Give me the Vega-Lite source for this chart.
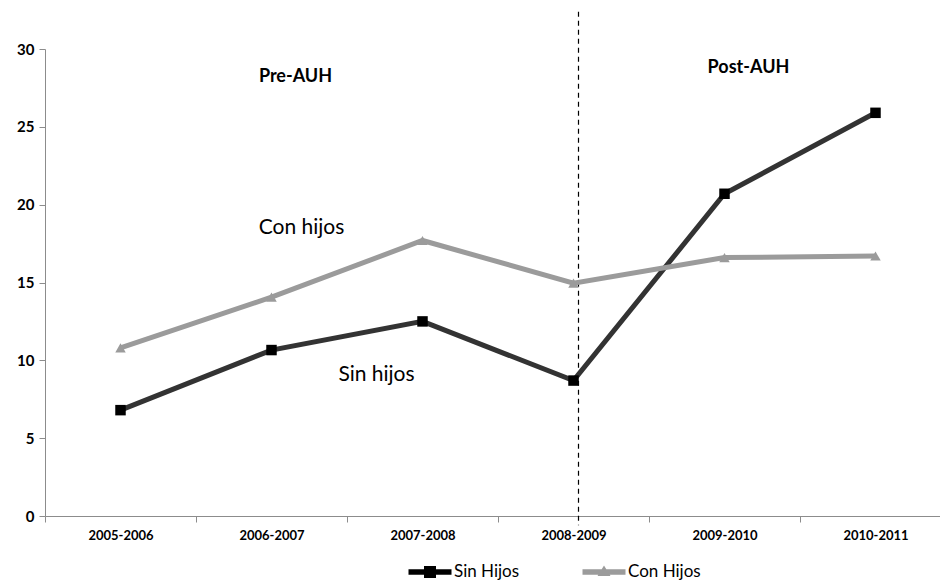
{
  "$schema": "https://vega.github.io/schema/vega-lite/v6.json",
  "autosize": "none",
  "width": 895,
  "height": 467,
  "padding": {"left": 45, "top": 49, "right": 0, "bottom": 69},
  "background": "white",
  "config": {
    "view": {"stroke": null},
    "font": "Lato",
    "axis": {"grid": false, "domainColor": "#8c8c8c", "tickColor": "#8c8c8c", "labelColor": "#000", "labelFont": "Lato", "labelFontWeight": "bold"}
  },
  "datasets": {
    "series": [
      {"period": "2005-2006", "serie": "Sin Hijos", "value": 6.8},
      {"period": "2006-2007", "serie": "Sin Hijos", "value": 10.66},
      {"period": "2007-2008", "serie": "Sin Hijos", "value": 12.5},
      {"period": "2008-2009", "serie": "Sin Hijos", "value": 8.7},
      {"period": "2009-2010", "serie": "Sin Hijos", "value": 20.7},
      {"period": "2010-2011", "serie": "Sin Hijos", "value": 25.9},
      {"period": "2005-2006", "serie": "Con Hijos", "value": 10.8},
      {"period": "2006-2007", "serie": "Con Hijos", "value": 14.06},
      {"period": "2007-2008", "serie": "Con Hijos", "value": 17.7},
      {"period": "2008-2009", "serie": "Con Hijos", "value": 14.96},
      {"period": "2009-2010", "serie": "Con Hijos", "value": 16.6},
      {"period": "2010-2011", "serie": "Con Hijos", "value": 16.7}
    ]
  },
  "layer": [
    {
      "data": {"values": [{"period": "2008-2009", "top": 32.4, "bottom": -0.6}]},
      "mark": {"type": "rule", "strokeDash": [5, 4], "color": "#000", "strokeWidth": 1.2, "xOffset": 5, "clip": false},
      "encoding": {
        "x": {"field": "period", "type": "nominal"},
        "y": {"field": "top", "type": "quantitative"},
        "y2": {"field": "bottom"}
      }
    },
    {
      "data": {"name": "series"},
      "mark": {"type": "line", "strokeWidth": 5},
      "encoding": {
        "x": {
          "field": "period", "type": "nominal", "sort": null,
          "scale": {"type": "band", "range": [0, 906], "paddingInner": 0, "paddingOuter": 0},
          "axis": {"title": null, "labelAngle": 0, "labelAlign": "center", "labelFontSize": 13, "tickBand": "extent", "tickSize": 6, "labelPadding": 13}
        },
        "y": {
          "field": "value", "type": "quantitative",
          "scale": {"domain": [0, 30]},
          "axis": {"title": null, "values": [0, 5, 10, 15, 20, 25, 30], "labelFontSize": 15, "tickSize": 6, "labelPadding": 5}
        },
        "color": {
          "field": "serie", "type": "nominal",
          "scale": {"domain": ["Sin Hijos", "Con Hijos"], "range": ["#333333", "#9b9b9b"]},
          "legend": {
            "title": null,
            "orient": "none",
            "legendX": 375,
            "legendY": 513,
            "padding": 0,
            "direction": "horizontal",
            "labelFontSize": 17,
            "labelFont": "Lato",
            "labelColor": "#000",
            "labelBaseline": "middle",
            "labelLimit": 300,
            "symbolSize": 400,
            "columnPadding": 62,
            "labelOffset": 14,
            "symbolStrokeWidth": 0,
            "encode": {
              "labels": {"update": {"fontSize": {"value": 17}}},
              "symbols": {
                "update": {
                  "shape": {"signal": "datum.value == 'Sin Hijos' ? 'M-2.15,-0.28H2.15V0.28H-2.15Z M-0.6,-0.6H0.6V0.6H-0.6Z' : 'M-2.15,-0.28H2.15V0.28H-2.15Z M-0.65,0.4L0,-0.65L0.65,0.4Z'"},
                  "fill": {"signal": "datum.value == 'Sin Hijos' ? '#000000' : '#9b9b9b'"},
                  "strokeWidth": {"value": 0}
                }
              }
            }
          }
        }
      }
    },
    {
      "data": {"name": "series"},
      "mark": {"type": "point", "filled": true, "opacity": 1, "size": 110},
      "encoding": {
        "x": {"field": "period", "type": "nominal", "sort": null},
        "y": {"field": "value", "type": "quantitative"},
        "shape": {"field": "serie", "type": "nominal", "scale": {"domain": ["Sin Hijos", "Con Hijos"], "range": ["square", "triangle-up"]}, "legend": null},
        "color": {"field": "serie", "type": "nominal", "scale": {"domain": ["Sin Hijos", "Con Hijos"], "range": ["#000000", "#9b9b9b"]}, "legend": null}
      }
    },
    {
      "data": {"values": [{"period": "2006-2007", "value": 28.2, "label": "Pre-AUH"}, {"period": "2009-2010", "value": 28.8, "label": "Post-AUH"}]},
      "mark": {"type": "text", "fontSize": 18, "fontWeight": "bold", "font": "Lato", "color": "#000", "dx": 24},
      "encoding": {
        "x": {"field": "period", "type": "nominal"},
        "y": {"field": "value", "type": "quantitative"},
        "text": {"field": "label"}
      }
    },
    {
      "data": {"values": [{"period": "2006-2007", "value": 18.5, "label": "Con hijos"}]},
      "mark": {"type": "text", "fontSize": 21, "font": "Lato", "color": "#000", "dx": 30},
      "encoding": {
        "x": {"field": "period", "type": "nominal"},
        "y": {"field": "value", "type": "quantitative"},
        "text": {"field": "label"}
      }
    },
    {
      "data": {"values": [{"period": "2007-2008", "value": 9.05, "label": "Sin hijos"}]},
      "mark": {"type": "text", "fontSize": 21, "font": "Lato", "color": "#000", "dx": -46},
      "encoding": {
        "x": {"field": "period", "type": "nominal"},
        "y": {"field": "value", "type": "quantitative"},
        "text": {"field": "label"}
      }
    }
  ],
  "resolve": {"scale": {"color": "independent"}}
}
